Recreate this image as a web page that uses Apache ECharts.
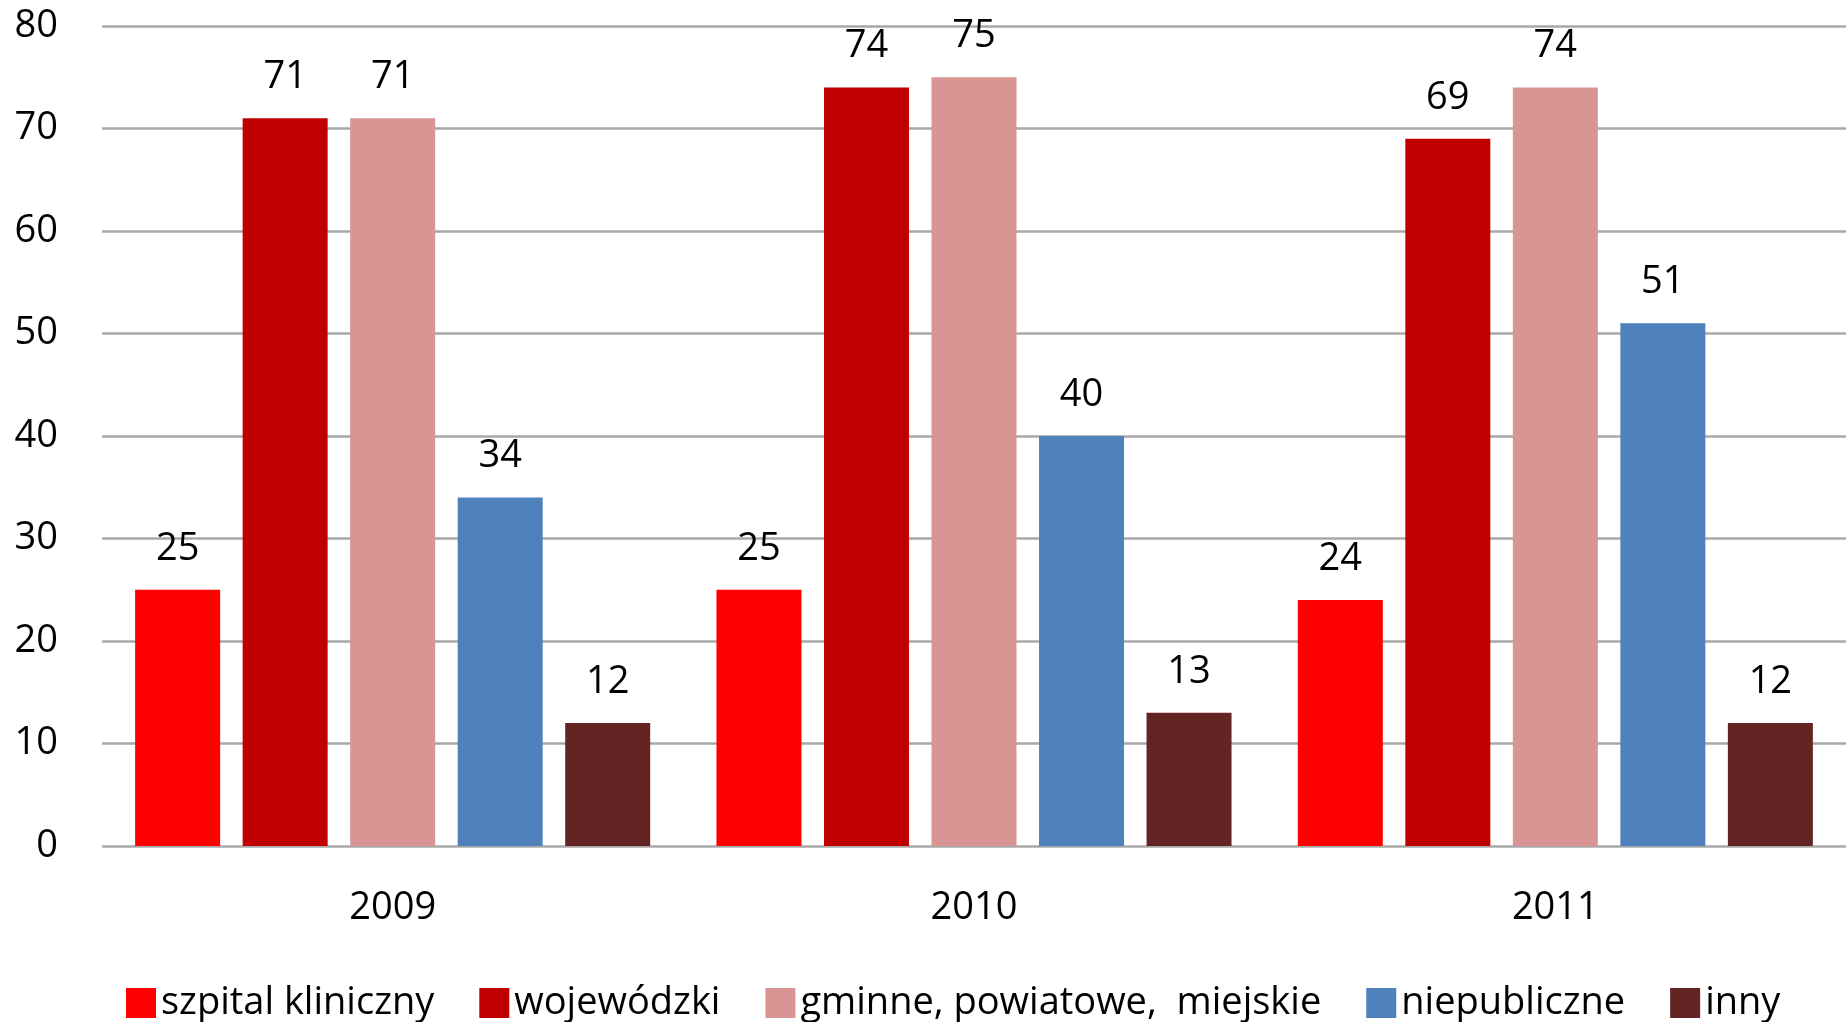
<!DOCTYPE html>
<html><head><meta charset="utf-8">
<script src="https://cdn.jsdelivr.net/npm/echarts@6/dist/echarts.min.js"></script>
<style>html,body{margin:0;padding:0;background:#fff;overflow:hidden}#c{width:1846px;height:1022px}</style>
</head><body><div id="c"></div>
<script>
const categories = ['2009', '2010', '2011'];
const seriesNames = ['szpital kliniczny', 'wojewódzki', 'gminne, powiatowe,  miejskie', 'niepubliczne', 'inny'];
const szpitalKliniczny = [25, 25, 24];
const wojewodzki = [71, 74, 69];
const gminne = [71, 75, 74];
const niepubliczne = [34, 40, 51];
const inny = [12, 13, 12];
const yTicks = [0, 10, 20, 30, 40, 50, 60, 70, 80];
const colors = ['#FF0000', '#C00000', '#D99594', '#4F81BD', '#632523'];

const FONT = '"Open Sans", sans-serif';
const values = [szpitalKliniczny, wojewodzki, gminne, niepubliczne, inny];
const chart = echarts.init(document.getElementById('c'), null, {renderer: 'canvas'});
chart.setOption({
  animation: false,
  backgroundColor: '#fff',
  grid: {left: 102, right: -9, top: 26, bottom: 176, containLabel: false},
  legend: {
    data: seriesNames,
    left: 121, top: 979,
    itemWidth: 30, itemHeight: 30, itemGap: 45,
    icon: 'rect',
    textStyle: {fontFamily: FONT, fontSize: 38, color: '#000'}
  },
  xAxis: {
    type: 'category', data: categories,
    axisLine: {show: false}, axisTick: {show: false},
    axisLabel: {fontFamily: FONT, fontSize: 38, color: '#000', margin: 43}
  },
  yAxis: {
    type: 'value', min: yTicks[0], max: yTicks[yTicks.length - 1], interval: 10,
    axisLine: {show: false}, axisTick: {show: false},
    axisLabel: {fontFamily: FONT, fontSize: 38, color: '#000', margin: 44},
    splitLine: {lineStyle: {color: '#a8a8a8', width: 2.5}}
  },
  series: seriesNames.map((n, i) => ({
    name: n, type: 'bar', data: values[i],
    itemStyle: {color: colors[i]},
    barGap: '26.5%', barCategoryGap: '11.4%',
    label: {show: true, position: 'top', distance: 22, fontFamily: FONT, fontSize: 38, color: '#000'}
  }))
});
</script></body></html>
